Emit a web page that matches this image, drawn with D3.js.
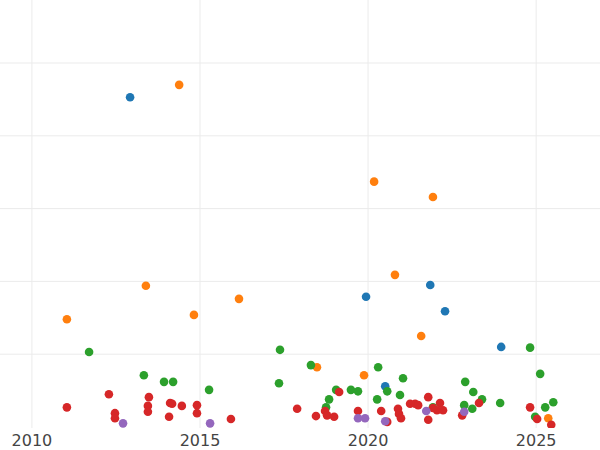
<!DOCTYPE html>
<meta charset="utf-8">
<script src="https://d3js.org/d3.v7.min.js"></script>
<style>body{margin:0;background:#fff}</style>
<div id="chart"></div>
<script>
// series values as [year, value]
const blue = [[2012.92,4.53],[2019.94,1.79],[2021.85,1.95],[2022.29,1.59],[2023.96,1.10],[2020.51,0.56]];
const orange = [[2014.38,4.70],[2020.18,3.37],[2021.93,3.16],[2020.80,2.09],[2013.39,1.94],[2011.04,1.48],
  [2014.82,1.54],[2016.16,1.76],[2021.58,1.25],[2018.48,0.82],[2019.88,0.71],[2025.36,0.12]];
const green = [[2011.70,1.03],[2017.38,1.06],[2013.33,0.71],[2013.93,0.62],[2014.20,0.62],[2015.27,0.51],
  [2017.35,0.60],[2018.30,0.85],[2020.30,0.82],[2024.82,1.09],[2025.12,0.73],[2022.89,0.62],[2021.04,0.67],
  [2019.05,0.51],[2019.49,0.51],[2019.70,0.49],[2018.84,0.38],[2020.57,0.49],[2020.95,0.44],[2018.75,0.27],
  [2020.27,0.38],[2023.13,0.48],[2023.39,0.38],[2023.93,0.33],[2022.86,0.30],[2023.10,0.25],[2025.27,0.27],
  [2025.51,0.34],[2021.93,0.27],[2024.97,0.14]];
const red = [[2011.04,0.27],[2012.29,0.45],[2012.47,0.19],[2012.47,0.12],[2013.48,0.41],[2013.45,0.29],
  [2013.45,0.21],[2014.11,0.33],[2014.17,0.32],[2014.46,0.29],[2014.91,0.30],[2014.91,0.19],[2014.08,0.14],
  [2015.92,0.11],[2017.89,0.25],[2018.45,0.15],[2018.72,0.22],[2018.78,0.16],[2018.99,0.14],[2019.14,0.48],
  [2019.70,0.22],[2020.39,0.22],[2020.57,0.07],[2020.89,0.25],[2020.92,0.18],[2020.98,0.12],[2021.25,0.32],
  [2021.40,0.32],[2021.49,0.30],[2021.79,0.41],[2021.79,0.10],[2022.14,0.33],[2022.05,0.23],[2022.23,0.23],
  [2022.80,0.16],[2023.30,0.33],[2024.82,0.27],[2025.03,0.11],[2025.45,0.03],[2021.93,0.26]];
const purple = [[2012.71,0.05],[2015.30,0.05],[2019.70,0.12],[2019.91,0.12],[2020.51,0.08],[2021.73,0.22],[2022.86,0.21]];
const xTicks = [2010, 2015, 2020, 2025];
const yTicks = [1, 2, 3, 4, 5];

const series = [
  {pts: blue, color: "#1f77b4"},
  {pts: orange, color: "#ff7f0e"},
  {pts: green, color: "#2ca02c"},
  {pts: red, color: "#d62728"},
  {pts: purple, color: "#9467bd"}
];

const width = 600, height = 450, plotBottom = 428;

const svg = d3.select("#chart").append("svg")
  .attr("width", width).attr("height", height);

const x = d3.scaleLinear().domain([2009.05, 2026.9]).range([0, width]);
const y = d3.scaleLinear().domain([0, 6]).range([427, 427 - 6 * 72.8]);

svg.append("defs").append("clipPath").attr("id", "plot")
  .append("rect").attr("x", 0).attr("y", 0).attr("width", width).attr("height", plotBottom);

// grid
svg.append("g").selectAll("line").data(yTicks).join("line")
  .attr("x1", 0).attr("x2", width)
  .attr("y1", d => y(d)).attr("y2", d => y(d))
  .attr("stroke", "#ebebeb").attr("stroke-width", 1);
svg.append("g").selectAll("line").data(xTicks).join("line")
  .attr("x1", d => x(d)).attr("x2", d => x(d))
  .attr("y1", 0).attr("y2", plotBottom)
  .attr("stroke", "#ebebeb").attr("stroke-width", 1);

// points
const pg = svg.append("g").attr("clip-path", "url(#plot)");
series.forEach(s => {
  pg.append("g").selectAll("circle").data(s.pts).join("circle")
    .attr("cx", d => x(d[0])).attr("cy", d => y(d[1]))
    .attr("r", 4.3).attr("fill", s.color);
});

// x tick labels
svg.append("g").selectAll("text").data(xTicks).join("text")
  .attr("x", d => x(d)).attr("y", 446)
  .attr("text-anchor", "middle")
  .attr("font-family", "DejaVu Sans, sans-serif")
  .attr("font-size", 16).attr("fill", "#444")
  .text(d => d);
</script>
